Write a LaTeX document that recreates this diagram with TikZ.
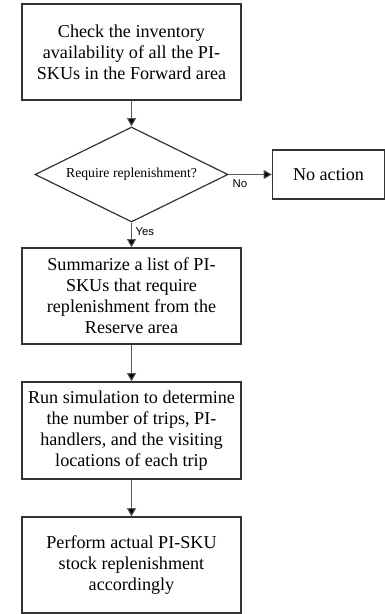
\documentclass[tikz,border=0pt]{standalone}
\usepackage{fontspec}
\setmainfont{Liberation Serif}
\newfontfamily\labelfont{Liberation Sans}
\usetikzlibrary{arrows.meta,shapes.geometric}
\begin{document}
\begin{tikzpicture}[x=0.75pt,y=-0.75pt,
  stepbox/.style={draw=black!80,line width=0.9pt,fill=white,align=center,
    inner sep=0pt,font=\fontsize{13.6}{15.8}\selectfont},
  decision/.style={draw=black!80,line width=0.9pt,shape=diamond,aspect=2,
    inner sep=0pt,minimum width=144.75pt,minimum height=71.25pt,
    font=\fontsize{10.3}{12}\selectfont},
  flow/.style={draw=black!65,line width=0.75pt,-{Triangle[length=6.2pt,width=6.8pt,fill=black]}},
  branch/.style={font=\labelfont\fontsize{8.5}{10}\selectfont,inner sep=1pt}]
\useasboundingbox (0,0) rectangle (385,614);

\node[stepbox,minimum width=164.25pt,minimum height=72pt] (check) at (131.5,52)
  {Check the inventory\\availability of all the PI-\\SKUs in the Forward area};
\node[decision] (req) at (131.5,174.5) {Require replenishment?};
\node[stepbox,minimum width=84pt,minimum height=36.75pt] (noact) at (328.5,174.5) {No action};
\node[stepbox,minimum width=164.25pt,minimum height=72pt] (summ) at (131.5,296)
  {Summarize a list of PI-\\SKUs that require\\replenishment from the\\Reserve area};
\node[stepbox,minimum width=164.25pt,minimum height=72.75pt] (sim) at (131.5,430.5)
  {Run simulation to determine\\the number of trips, PI-\\handlers, and the visiting\\locations of each trip};
\node[stepbox,minimum width=164.25pt,minimum height=72pt] (perf) at (131.5,565)
  {Perform actual PI-SKU\\stock replenishment\\accordingly};

\draw[flow] (check) -- (req);
\draw[flow] (req.east) -- (noact.west);
\draw[flow] (req.south) -- (summ.north);
\draw[flow] (summ) -- (sim);
\draw[flow] (sim) -- (perf);

\node[branch,anchor=west] (nolab) at (231,184) {No};
\node[branch,anchor=west] (yeslab) at (134,232) {Yes};
\end{tikzpicture}
\end{document}
